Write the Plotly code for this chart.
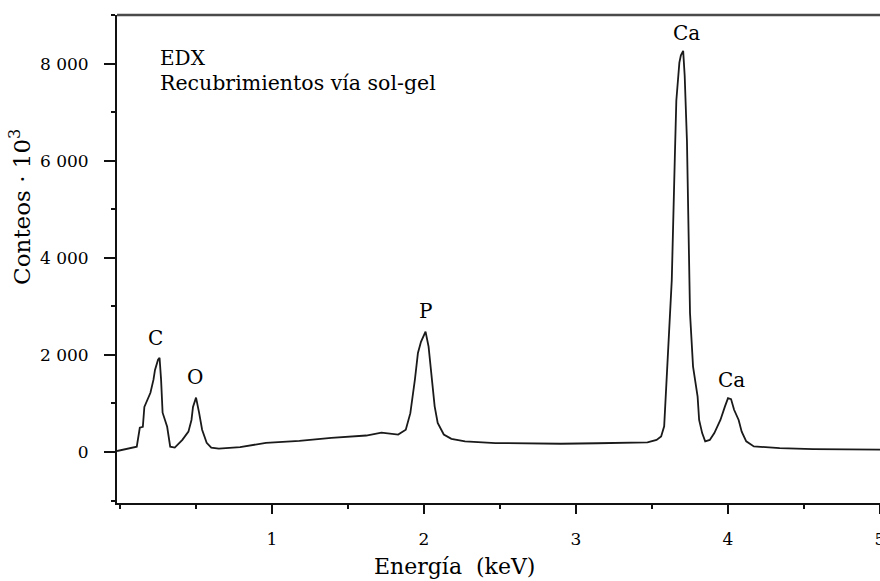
import plotly.graph_objects as go

# Spectrum (energy in keV, counts)
energy = [-0.02, 0.08, 0.11, 0.13, 0.15, 0.16, 0.20, 0.22, 0.23, 0.25, 0.26, 0.27, 0.28, 0.31, 0.33,
          0.36, 0.41, 0.45, 0.47, 0.48, 0.50, 0.52, 0.54, 0.57, 0.60, 0.65, 0.79, 0.96, 1.18, 1.39,
          1.62, 1.72, 1.83, 1.88, 1.91, 1.94, 1.96, 1.98, 2.01, 2.03, 2.05, 2.07, 2.09, 2.13, 2.18,
          2.27, 2.47, 2.68, 2.90, 3.14, 3.34, 3.47, 3.53, 3.56, 3.58, 3.59, 3.60, 3.61, 3.63, 3.65,
          3.66, 3.68, 3.69, 3.705, 3.715, 3.73, 3.74, 3.75, 3.77, 3.80, 3.81, 3.83, 3.85, 3.88, 3.91,
          3.95, 3.98, 4.00, 4.02, 4.04, 4.07, 4.09, 4.12, 4.17, 4.34, 4.56, 5.00]
counts = [20, 90, 110, 500, 520, 930, 1220, 1490, 1690, 1900, 1940, 1490, 810, 520, 110,
          90, 250, 420, 660, 930, 1120, 810, 460, 190, 90, 70, 100, 190, 230, 290,
          340, 400, 360, 460, 800, 1490, 2040, 2270, 2480, 2170, 1490, 940, 600, 360, 270,
          220, 185, 180, 170, 180, 185, 200, 250, 320, 530, 1080, 1690, 2380, 3540, 6050,
          7240, 8020, 8170, 8260, 7750, 6390, 4500, 2860, 1760, 1140, 660, 390, 220, 250, 390,
          660, 940, 1110, 1090, 870, 660, 420, 220, 115, 80, 60, 50]

# Peak labels
peak_names = ["C", "O", "P", "Ca", "Ca"]
peak_x = [0.23, 0.49, 2.01, 3.73, 4.02]
peak_y = [2350, 1550, 2905, 8620, 1490]

y_tickvals = [0, 2000, 4000, 6000, 8000]
y_ticktext = ["0", "2 000", "4 000", "6 000", "8 000"]
x_tickvals = [1, 2, 3, 4, 5]
x_ticktext = ["1", "2", "3", "4", "5"]

x_title = "Energía  (keV)"
y_title = "Conteos · 10<sup>3</sup>"

FONT = "DejaVu Serif"
INK = "#000"

fig = go.Figure()
fig.add_trace(go.Scatter(x=energy, y=counts, mode="lines",
                         line=dict(color="#1a1a1a", width=1.8), showlegend=False,
                         hoverinfo="skip"))

for name, px, py in zip(peak_names, peak_x, peak_y):
    fig.add_annotation(x=px, y=py, xref="x", yref="y", text=name, showarrow=False,
                       font=dict(family=FONT, size=20, color=INK))

fig.add_annotation(x=0.25, y=8110, xref="x", yref="y", text="EDX", showarrow=False,
                   xanchor="left", font=dict(family=FONT, size=20, color=INK))
fig.add_annotation(x=0.25, y=7590, xref="x", yref="y", text="Recubrimientos vía sol-gel",
                   showarrow=False, xanchor="left", font=dict(family=FONT, size=20.5, color=INK))

# axis titles (placed as in the reference, off-centre)
fig.add_annotation(x=-0.127, y=0.607, xref="paper", yref="paper", text=y_title,
                   textangle=-90, showarrow=False, xanchor="center", yanchor="middle",
                   font=dict(family=FONT, size=23, color=INK))
fig.add_annotation(x=0.4417, y=-0.131, xref="paper", yref="paper", text=x_title,
                   showarrow=False, xanchor="center", yanchor="middle",
                   font=dict(family=FONT, size=22, color=INK))

# top border line
fig.add_shape(type="line", xref="paper", yref="paper", x0=0, x1=1, y0=1, y1=1,
              line=dict(color="#4a4a4a", width=2.5))

fig.update_layout(
    width=880, height=581,
    margin=dict(l=117, r=0, t=15, b=78),
    paper_bgcolor="white", plot_bgcolor="white",
    font=dict(family=FONT, color=INK),
    xaxis=dict(range=[-0.02, 5.0], showgrid=False, zeroline=False, automargin=False,
               showline=True, linecolor="#111", linewidth=2,
               tickvals=x_tickvals, ticktext=x_ticktext,
               ticks="outside", ticklen=9, tickwidth=2, tickcolor="#111",
               ticklabelstandoff=11, ticklabeloverflow="allow",
               tickfont=dict(family=FONT, size=17, color=INK),
               minor=dict(dtick=0.5, tick0=0, ticks="outside", ticklen=4, tickwidth=2,
                          tickcolor="#111")),
    yaxis=dict(range=[-1050, 9000], showgrid=False, zeroline=False, automargin=False,
               showline=True, linecolor="#111", linewidth=2,
               tickvals=y_tickvals, ticktext=y_ticktext,
               ticks="outside", ticklen=11, tickwidth=2, tickcolor="#111",
               ticklabelstandoff=12,
               tickfont=dict(family=FONT, size=17, color=INK),
               minor=dict(dtick=1000, tick0=0, ticks="outside", ticklen=4, tickwidth=1.5,
                          tickcolor="#111")),
)

fig.write_html("out.html", config={"displayModeBar": False},
               post_script="document.body.style.margin='0';document.body.style.overflow='hidden';")
